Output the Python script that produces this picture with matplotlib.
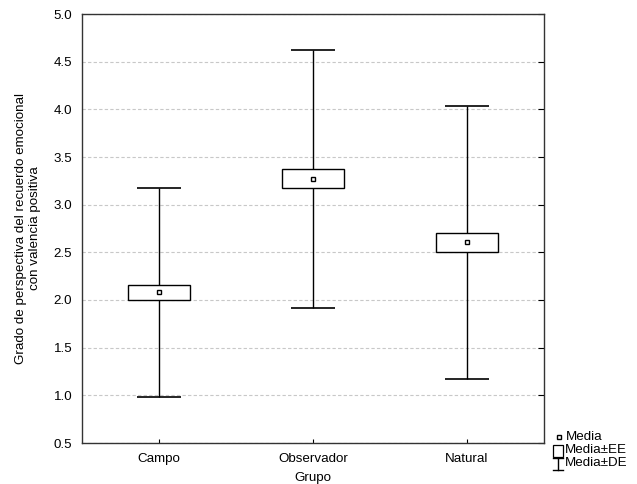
import matplotlib
matplotlib.use("Agg")
import matplotlib.pyplot as plt
from matplotlib.lines import Line2D
from matplotlib.patches import Rectangle

plt.rcParams['font.family'] = ['Liberation Sans', 'DejaVu Sans']

groups = ["Campo", "Observador", "Natural"]
means = [2.08, 3.27, 2.605]
se = [0.08, 0.10, 0.103]
sd = [1.10, 1.355, 1.435]
yticks = [0.5, 1.0, 1.5, 2.0, 2.5, 3.0, 3.5, 4.0, 4.5, 5.0]

FS = 9.6

fig = plt.figure(figsize=(6.37, 4.84), dpi=100)
ax = fig.add_axes([82/637, 41/484, 462/637, 429/484])

x = list(range(1, len(groups) + 1))

# whiskers (mean ± SD)
ax.errorbar(x, means, yerr=sd, fmt='none', ecolor='black', elinewidth=1.0,
            capsize=15.5, capthick=1.2, zorder=2)
# boxes (mean ± SE)
box_bottom = [m - s for m, s in zip(means, se)]
box_height = [2 * s for s in se]
ax.bar(x, box_height, bottom=box_bottom, width=0.4, facecolor='white',
       edgecolor='black', linewidth=1.0, zorder=3)
# mean markers
ax.plot(x, means, linestyle='none', marker='s', markersize=3.5,
        markerfacecolor='white', markeredgecolor='black', markeredgewidth=1.0, zorder=4)

ax.set_xlim(0.5, 3.5)
ax.set_ylim(0.5, 5.0)
ax.set_xticks(x)
ax.set_xticklabels(groups, fontsize=FS)
ax.set_yticks(yticks)
ax.set_yticklabels([f"{t:.1f}" for t in yticks], fontsize=FS)
ax.tick_params(axis='y', direction='in', left=False, right=True, length=4, pad=7)
ax.tick_params(axis='x', direction='in', length=3, pad=7)
ax.yaxis.grid(True, color='#c8c8c8', linestyle=(0, (3, 2)), linewidth=0.8)
ax.set_axisbelow(True)
for s in ax.spines.values():
    s.set_linewidth(1.0)
    s.set_color('#333333')

ax.set_xlabel("Grupo", fontsize=FS, labelpad=5)
ax.set_ylabel("Grado de perspectiva del recuerdo emocional\ncon valencia positiva",
              fontsize=FS, labelpad=9, linespacing=1.25)

# legend (drawn in figure pixels)
W, H = 637, 484
def fx(px):
    return px / W
def fy(py):
    return 1 - py / H

fig.add_artist(Line2D([fx(559)], [fy(437)], marker='s', markersize=3.5,
                      markerfacecolor='white', markeredgecolor='black',
                      markeredgewidth=1.0, linestyle='none'))
fig.text(fx(566), fy(437), "Media", fontsize=FS, va='center', ha='left')
fig.add_artist(Rectangle((fx(553), fy(457)), 10 / W, 12 / H, transform=fig.transFigure,
                         facecolor='white', edgecolor='black', linewidth=0.9))
fig.text(fx(565), fy(450), "Media±EE", fontsize=FS, va='center', ha='left')
fig.add_artist(Line2D([fx(553), fx(563)], [fy(458), fy(458)], color='black', linewidth=1.0))
fig.add_artist(Line2D([fx(558), fx(558)], [fy(458), fy(470)], color='black', linewidth=1.0))
fig.add_artist(Line2D([fx(553), fx(563)], [fy(470), fy(470)], color='black', linewidth=1.0))
fig.text(fx(565), fy(463), "Media±DE", fontsize=FS, va='center', ha='left')

fig.savefig("out.png", dpi=100)
